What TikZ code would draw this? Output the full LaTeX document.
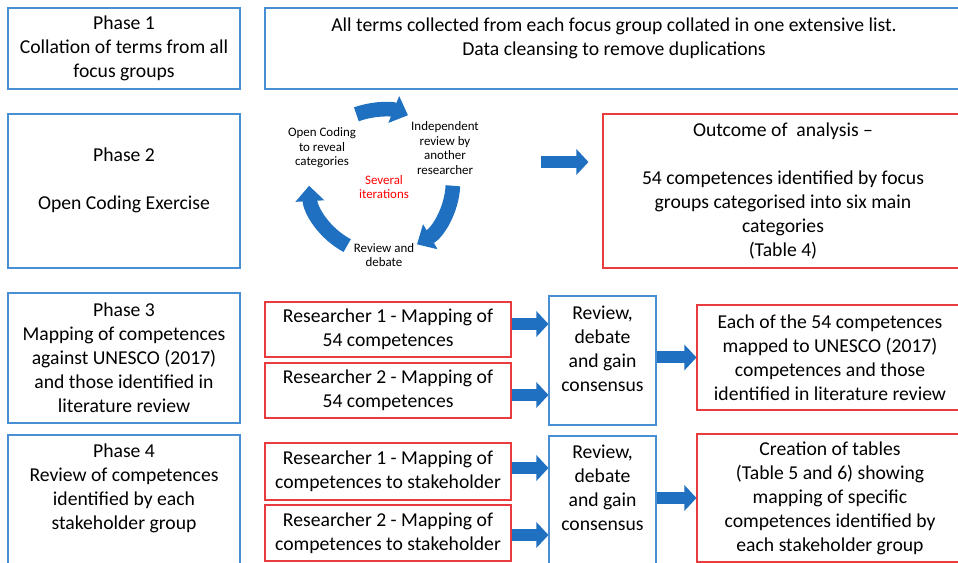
\documentclass[tikz,border=0pt]{standalone}
\usepackage{fontspec}
\setmainfont{Carlito}
\usetikzlibrary{arrows.meta}
\definecolor{boxblue}{RGB}{72,142,212}
\definecolor{boxred}{RGB}{234,60,60}
\definecolor{arrblue}{RGB}{31,112,193}
\tikzset{
  every node/.style={font=\fontsize{14.75}{18}\selectfont, align=center, inner sep=0pt},
  bluebox/.style 2 args={draw=boxblue, line width=0.8pt, minimum width=#1, minimum height=#2},
  redbox/.style 2 args={draw=boxred, line width=0.8pt, minimum width=#1, minimum height=#2},
  cyctext/.style={font=\fontsize{9.7}{10.8}\selectfont},
  fatarrow/.style={draw=arrblue, line width=9pt, -{Triangle[width=18.75pt,length=9pt]}},
  iterarrow/.style={draw=arrblue, line width=11pt, -{Triangle[width=21pt,length=11.5pt]}}
}
\begin{document}
\begin{tikzpicture}[x=0.75pt, y=-0.75pt]
    \useasboundingbox (0,0) rectangle (958,563);
    \clip (0,0) rectangle (958,563);
    \node[bluebox={174pt}{60.75pt}] (phase1) at (124,48.5) {Phase 1\\Collation of terms from all\\focus groups};
    \node[bluebox={523.5pt}{60.75pt}] (collate) at (614,48.5) {All terms collected from each focus group collated in one extensive list.\\Data cleansing to remove duplications\\\mbox{}};
    \node[bluebox={174pt}{115.5pt}] (phase2) at (124,191) {Phase 2\\\mbox{}\\Open Coding Exercise\\\mbox{}};
    \node[redbox={270pt}{115.5pt}] (outcome) at (783,191) {Outcome of\ \ analysis --\\\mbox{}\\54 competences identified by focus\\groups categorised into six main\\categories\\(Table 4)};
    \coordinate (loopc) at (381,182);
    \draw[iterarrow] (loopc) ++(-110:72) arc[start angle=-110, end angle=-68, radius=72];
    \draw[iterarrow] (loopc) ++(3:72) arc[start angle=3, end angle=60, radius=72];
    \draw[iterarrow] (loopc) ++(118:72) arc[start angle=118, end angle=177, radius=72];
    \node[cyctext] (opencode) at (322,148) {Open Coding\\to reveal\\categories};
    \node[cyctext] (indep) at (445,148) {Independent\\review by\\another\\researcher};
    \node[cyctext, text=red] (several) at (384,187) {Several\\iterations};
    \node[cyctext] (revdebate) at (384,255) {Review and\\debate};
    \draw[fatarrow] (outcome.west) ++(-61,-29) -- ++(47,0);
    \node[bluebox={174pt}{97.5pt}] (phase3) at (124,358) {Phase 3\\Mapping of competences\\against UNESCO (2017)\\and those identified in\\literature review};
    \node[redbox={184.5pt}{41.25pt}] (res13) at (388,329.5) {Researcher 1 - Mapping of\\54 competences};
    \node[redbox={184.5pt}{41.25pt}] (res23) at (388,390.5) {Researcher 2 - Mapping of\\54 competences};
    \node[bluebox={80.25pt}{96.75pt}] (review3) at (602.5,360.5) {Review,\\debate\\and gain\\consensus\\\mbox{}};
    \node[redbox={199.5pt}{78.75pt}] (result3) at (830,357.5) {Each of the 54 competences\\mapped to UNESCO (2017)\\competences and those\\identified in literature review};
    \draw[fatarrow] (res13.east) ++(0,-5.5) coordinate (r13a) -- (r13a -| review3.west);
    \draw[fatarrow] (res23.east) ++(0,4.5) coordinate (r23a) -- (r23a -| review3.west);
    \draw[fatarrow] (review3.east |- result3.west) -- (result3.west);
    \node[bluebox={174pt}{114pt}] (phase4) at (124,511) {Phase 4\\Review of competences\\identified by each\\stakeholder group\\\mbox{}\\\mbox{}};
    \node[redbox={184.5pt}{42.75pt}] (res14) at (388,471.5) {Researcher 1 - Mapping of\\competences to stakeholder};
    \node[redbox={184.5pt}{42pt}] (res24) at (388,533) {Researcher 2 - Mapping of\\competences to stakeholder};
    \node[bluebox={80.25pt}{114pt}] (review4) at (602.5,512) {Review,\\debate\\and gain\\consensus\\\mbox{}\\\mbox{}};
    \node[redbox={199.5pt}{96pt}] (result4) at (830,498) {Creation of tables\\(Table 5 and 6) showing\\mapping of specific\\competences identified by\\each stakeholder group};
    \draw[fatarrow] (res14.east) ++(0,-3.5) coordinate (r14a) -- (r14a -| review4.west);
    \draw[fatarrow] (res24.east) ++(0,2) coordinate (r24a) -- (r24a -| review4.west);
    \draw[fatarrow] (review4.east |- result4.west) -- (result4.west);
\end{tikzpicture}
\end{document}
